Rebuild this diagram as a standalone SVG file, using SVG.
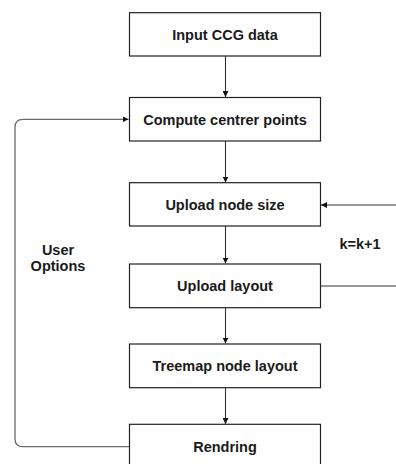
<svg xmlns="http://www.w3.org/2000/svg" width="396" height="464" viewBox="0 0 396 464">
<style>
.box{fill:#fff;stroke:#222;stroke-width:1.2}
.t{font-family:"Liberation Sans",Arial,sans-serif;font-weight:bold;font-size:14.5px;fill:#1a1a1a;text-anchor:middle}
.c{fill:none;stroke:#333;stroke-width:1.1}
.loop{fill:none;stroke:#6a6a6a;stroke-width:1.3}
</style>
<defs>
<marker id="ah" viewBox="0 0 10 10" refX="10" refY="5" markerWidth="6" markerHeight="6" markerUnits="userSpaceOnUse" orient="auto">
<path d="M0,0 L10,5 L0,10 z" fill="#111"/>
</marker>
</defs>
<rect width="396" height="464" fill="#fff"/>
<g id="connectors">
<path class="c" d="M225.5,56 V97" marker-end="url(#ah)"/>
<path class="c" d="M225.5,141 V182.5" marker-end="url(#ah)"/>
<path class="c" d="M225.5,226 V263.5" marker-end="url(#ah)"/>
<path class="c" d="M225.5,307.7 V343.5" marker-end="url(#ah)"/>
<path class="c" d="M225.5,387.7 V424" marker-end="url(#ah)"/>
<path class="loop" d="M129.5,446.7 H23 Q15,446.7 15,438.7 V127.3 Q15,119.3 23,119.3 H128.5" marker-end="url(#ah)"/>
<path class="c" d="M396,205 H321" marker-end="url(#ah)"/>
<path class="c" d="M320.5,286 H396"/>
</g>
<g id="n1"><rect class="box" x="129.5" y="12.7" width="191" height="43.3"/><text class="t" x="225" y="39.5">Input CCG data</text></g>
<g id="n2"><rect class="box" x="129.5" y="97.5" width="191" height="43.5"/><text class="t" x="225" y="124.5">Compute centrer points</text></g>
<g id="n3"><rect class="box" x="129.5" y="182.7" width="191" height="43.3"/><text class="t" x="225" y="209.5">Upload node size</text></g>
<g id="n4"><rect class="box" x="129.5" y="264" width="191" height="43.7"/><text class="t" x="225" y="291">Upload layout</text></g>
<g id="n5"><rect class="box" x="129.5" y="344" width="191" height="43.7"/><text class="t" x="225" y="371">Treemap node layout</text></g>
<g id="n6"><rect class="box" x="129.5" y="424.3" width="191" height="44"/><text class="t" x="225" y="451.5">Rendring</text></g>
<g id="labels">
<text class="t" x="58" y="255">User</text>
<text class="t" x="58" y="271">Options</text>
<text class="t" x="360" y="248.5">k=k+1</text>
</g>
</svg>
